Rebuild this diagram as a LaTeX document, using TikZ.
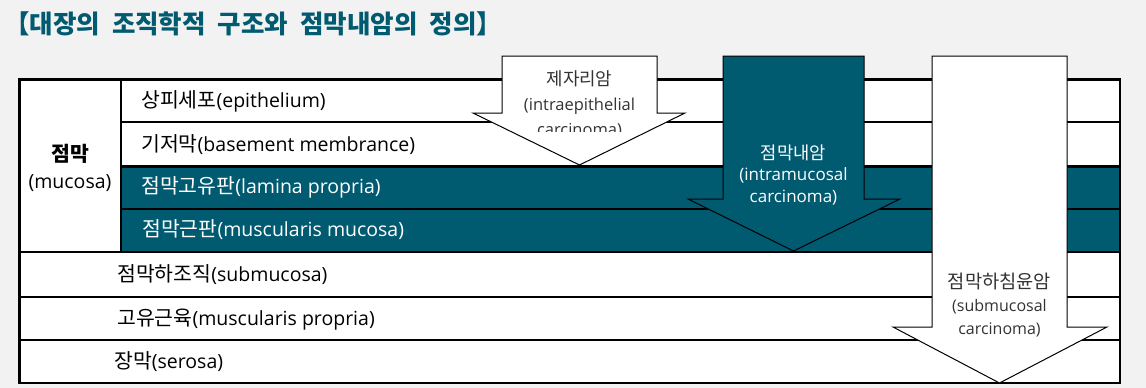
\documentclass[tikz,border=0pt]{standalone}
\usepackage{fontspec}
\setmainfont{Open Sans}
\newfontfamily\kr[Scale=1.05]{Noto Sans CJK KR}
\newfontfamily\krt{Noto Sans CJK KR}
\definecolor{mteal}{HTML}{005A70}
\definecolor{bgc}{HTML}{F2F2F2}
\begin{document}
\begin{tikzpicture}[x=1pt,y=-1pt, line join=miter,
  rowline/.style={line width=2.8pt},
  arrowshape/.style={draw=black, line width=1pt},
  lbl/.style={anchor=west, inner sep=0pt, font=\fontsize{19.5}{22}\selectfont},
  arrowtxt/.style={align=center, inner sep=0pt}]
\useasboundingbox (0,0) rectangle (1146,388);
\fill[bgc] (0,0) rectangle (1146,388);

% title
\node[anchor=west, inner sep=0pt, text=mteal, font=\krt\bfseries\fontsize{25.5}{30}\selectfont] (title) at (4,24)
  {【대장의\hspace{12pt}조직학적\hspace{12pt}구조와\hspace{12pt}점막내암의\hspace{12pt}정의】};

% layers
\fill[white] (19.5,79.5) rectangle (1120,383);
\fill[mteal] (121,166.5) rectangle (1120,252);
\draw[rowline] (19.5,79.5) rectangle (1120,383);
\draw[rowline] (121,122) -- (1120,122);
\draw[rowline] (121,166.5) -- (1120,166.5);
\draw[rowline] (121,209) -- (1120,209);
\draw[rowline] (19.5,252) -- (1120,252);
\draw[rowline] (19.5,297) -- (1120,297);
\draw[rowline] (19.5,340) -- (1120,340);
\draw[rowline] (121,79.5) -- (121,252);

\node[align=center, inner sep=0pt, font=\fontsize{19.5}{27}\selectfont] (mucosa) at (70,168) {{\kr\bfseries 점막}\\(mucosa)};

\node[lbl] (epi) at (141,101.5) {{\kr 상피세포}(epithelium)};
\node[lbl] (bm) at (141,145) {{\kr 기저막}(basement membrance)};
\node[lbl, text=white] (lp) at (141,187) {{\kr 점막고유판}(lamina propria)};
\node[lbl, text=white] (mm) at (142,230) {{\kr 점막근판}(muscularis mucosa)};
\node[lbl] (sm) at (117,275) {{\kr 점막하조직}(submucosa)};
\node[lbl] (mp) at (117,319.5) {{\kr 고유근육}(muscularis propria)};
\node[lbl] (se) at (114,361.5) {{\kr 장막}(serosa)};

% arrow 1: intraepithelial
\draw[arrowshape, fill=white] (502,56) -- (657,56) -- (657,113) -- (685,113) -- (579.5,165) -- (473,113) -- (502,113) -- cycle;
\begin{scope}
\clip (473,50) rectangle (685,131.5);
\node[arrowtxt, text=black!80, font=\fontsize{16.5}{25}\selectfont] (ie) at (579.5,104) {{\krt\fontsize{17.9}{25}\selectfont 제자리암}\\(intraepithelial\\carcinoma)};
\end{scope}

% arrow 2: intramucosal
\draw[arrowshape, fill=mteal] (723,56) -- (864,56) -- (864,199) -- (900,199) -- (793.5,251) -- (688,199) -- (723,199) -- cycle;
\node[arrowtxt, text=white, font=\fontsize{17}{21.5}\selectfont] (im) at (793.5,175) {{\krt\fontsize{17.7}{21.5}\selectfont 점막내암}\\(intramucosal\\carcinoma)};

% arrow 3: submucosal
\draw[arrowshape, fill=white] (932,56) -- (1067,56) -- (1067,327) -- (1107,327) -- (999.5,383) -- (893,327) -- (932,327) -- cycle;
\node[arrowtxt, text=black!80, font=\fontsize{16}{23}\selectfont] (smc) at (999.5,305) {{\krt\fontsize{18.7}{23}\selectfont 점막하침윤암}\\(submucosal\\carcinoma)};
\end{tikzpicture}
\end{document}
